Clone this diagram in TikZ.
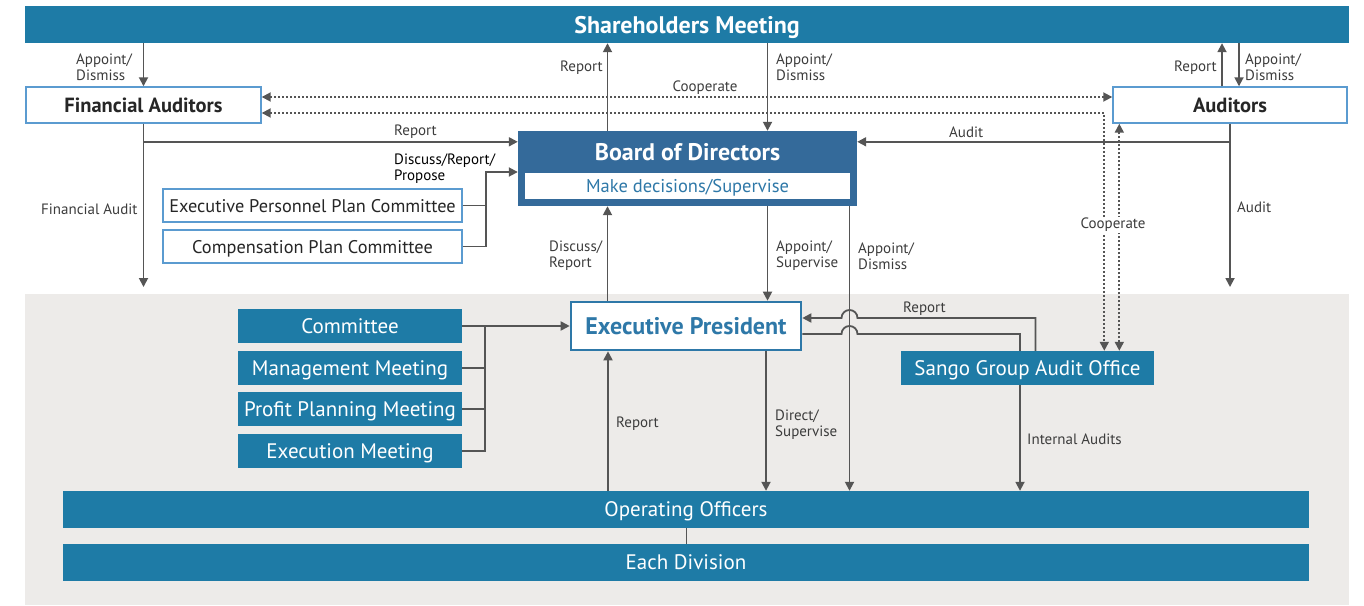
\documentclass[tikz,border=0pt]{standalone}
\usepackage{fontspec}
\setmainfont{PT Sans}
\usepackage{xcolor}
\usetikzlibrary{positioning,calc,arrows.meta}

\definecolor{mainblue}{HTML}{1E7BA6}
\definecolor{bodblue}{HTML}{346A9A}
\definecolor{lineblue}{HTML}{5B9BD0}
\definecolor{epblue}{HTML}{2E78A8}
\definecolor{linegray}{HTML}{555555}
\definecolor{labelgray}{HTML}{3C3C3C}
\definecolor{bggray}{HTML}{EDEBE9}

\tikzset{
    arr/.style={draw=linegray, line width=1.8pt, -{Triangle[length=9pt,width=9pt]}},
    plain/.style={draw=linegray, line width=1.8pt},
    dotline/.style={draw=linegray, line width=1.8pt, dash pattern=on 1.8pt off 2.2pt,
        {Triangle[length=9pt,width=9pt]}-{Triangle[length=9pt,width=9pt]}},
    lbl/.style={font=\fontsize{15}{16}\selectfont, text=labelgray, align=left, inner sep=0pt},
    bluebar/.style={fill=mainblue, text=white, inner sep=0pt, text depth=0pt, font=\fontsize{21}{24}\selectfont},
    whitebox/.style={draw=lineblue, line width=1.4pt, fill=white, inner sep=0pt, text depth=0pt},
}

\begin{document}
\begin{tikzpicture}[x=1pt, y=-1pt]
    \useasboundingbox (0,0) rectangle (1364,605);
    % background of the executive part
    \fill[bggray] (25,294) rectangle (1349,605);

    % top level
    \node[bluebar, minimum width=1324pt, minimum height=37pt,
        font=\fontsize{24}{28}\selectfont\bfseries] (sh) at (687,24.5) {Shareholders Meeting};
    \node[whitebox, minimum width=235pt, minimum height=36pt,
        font=\fontsize{20.5}{24}\selectfont\bfseries, text=black!85] (fa) at (143.5,105) {Financial Auditors};
    \node[whitebox, minimum width=234pt, minimum height=36pt,
        font=\fontsize{20.5}{24}\selectfont\bfseries, text=black!85] (aud) at (1230,105) {Auditors};

    % board
    \node[fill=bodblue, minimum width=339pt, minimum height=75pt, inner sep=0pt] (bod) at (687.5,168.5) {};
    \node[text=white, font=\fontsize{24}{28}\selectfont\bfseries, inner sep=0pt, text depth=0pt] (bodt) at (687.5,152) {Board of Directors};
    \node[fill=white, minimum width=325pt, minimum height=26pt, inner sep=0pt, text depth=0pt, text=epblue,
        font=\fontsize{18.5}{22}\selectfont] (bodsub) at (687.5,186) {Make decisions/Supervise};

    \node[whitebox, minimum width=299pt, minimum height=33pt,
        font=\fontsize{18.3}{22}\selectfont, text=black!85] (eppc) at (312.5,205.5) {Executive Personnel Plan Committee};
    \node[whitebox, minimum width=299pt, minimum height=33pt,
        font=\fontsize{18.3}{22}\selectfont, text=black!85] (cpc) at (312.5,246.5) {Compensation Plan Committee};

    % executive part
    \node[draw=epblue, line width=2.6pt, fill=white, minimum width=230pt, minimum height=48pt, inner sep=0pt,
        text depth=0pt, text=epblue, font=\fontsize{24}{28}\selectfont\bfseries] (ep) at (686,326) {Executive President};
    \node[bluebar, minimum width=224pt, minimum height=34pt] (cm) at (350,326) {Committee};
    \node[bluebar, minimum width=224pt, minimum height=34pt] (mm) at (350,368) {Management Meeting};
    \node[bluebar, minimum width=224pt, minimum height=34pt] (pp) at (350,409) {Profit Planning Meeting};
    \node[bluebar, minimum width=224pt, minimum height=34pt] (em) at (350,451) {Execution Meeting};
    \node[bluebar, minimum width=253pt, minimum height=34pt] (sango) at (1027.5,368) {Sango Group Audit Office};
    \node[bluebar, minimum width=1246pt, minimum height=37pt] (op) at (686,509.5) {Operating Officers};
    \node[bluebar, minimum width=1246pt, minimum height=37pt] (div) at (686,562.5) {Each Division};

    % free ends and levels
    \coordinate (faend) at (143.5,287);
    \coordinate (audend) at (1230,287);
    \path ([yshift=-11pt]bod.north west) coordinate (bodL);
    \path ([yshift=-11pt]bod.north east) coordinate (bodR);
    \path ([yshift=-3.5pt]bod.west) coordinate (bodD);
    \coordinate (jmpA) at (849.5,318);
    \coordinate (jmpB) at (849.5,334);

    % shareholders meeting
    \draw[arr] (sh.south -| fa) -- (fa.north);
    \draw[arr] ([xshift=-80pt]bod.north) -- ([xshift=-80pt]bod.north |- sh.south);
    \draw[arr] ([xshift=80pt]bod.north |- sh.south) -- ([xshift=80pt]bod.north);
    \draw[arr] ([xshift=-8pt]aud.north) -- ([xshift=-8pt]aud.north |- sh.south);
    \draw[arr] ([xshift=9pt]aud.north |- sh.south) -- ([xshift=9pt]aud.north);

    % auditors
    \draw[arr] (fa.south) -- (faend);
    \draw[arr] (fa.south |- bodL) -- (bodL);
    \draw[arr] (aud.south) -- (audend);
    \draw[arr] (aud.south |- bodR) -- (bodR);
    \draw[dotline] ([yshift=8pt]fa.east) -- ([yshift=8pt]fa.east -| aud.west);
    \draw[dotline] ([yshift=-8pt]fa.east) -| ([xshift=-8pt]aud.west |- sango.north);
    \draw[dotline] ([xshift=7pt]aud.south west |- sango.north) -- ([xshift=7pt]aud.south west);

    % committees to board
    \draw[plain] (eppc.east) -- ++(23,0);
    \draw[arr] (cpc.east) -- ++(23,0) |- (bodD);

    % board and president
    \draw[arr] ([xshift=80pt]bod.south) -- ([xshift=80pt]bod.south |- ep.north);
    \draw[arr] ([xshift=-80pt]bod.south |- ep.north) -- ([xshift=-80pt]bod.south);
    \draw[arr] ([xshift=162pt]bod.south) -- ([xshift=162pt]bod.south |- op.north);

    % meetings to president
    \draw[arr] (cm.east) -- (cm.east -| ep.west);
    \draw[plain] (mm.east) -- ++(23,0);
    \draw[plain] (pp.east) -- ++(23,0);
    \draw[plain] (em.east) -- ++(23,0) -- ([xshift=23pt]cm.east);

    % audit office
    \draw[arr] ([xshift=8pt]sango.north) |- ([xshift=8pt]jmpA)
        arc[start angle=0, end angle=180, radius=8pt] -- ([yshift=8pt]ep.east);
    \draw[plain] ([yshift=-8pt]ep.east) -- ([xshift=-8pt]jmpB)
        arc[start angle=180, end angle=0, radius=8pt] -| ([xshift=-7.5pt]sango.north);
    \draw[arr] ([xshift=-7.5pt]sango.south) -- ([xshift=-7.5pt]sango.south |- op.north);

    % president and officers
    \draw[arr] ([xshift=80pt]ep.south) -- ([xshift=80pt]ep.south |- op.north);
    \draw[arr] ([xshift=-78pt]ep.south |- op.north) -- ([xshift=-78pt]ep.south);
    \draw[plain, line width=1pt] (op.south) -- (div.north);

    % labels
    \node[lbl, anchor=west] (l1) at (76,67) {Appoint/\\Dismiss};
    \node[lbl, anchor=west] (l2) at (560,68) {Report};
    \node[lbl, anchor=west] (l3) at (776,67) {Appoint/\\Dismiss};
    \node[lbl, anchor=center] (l4) at (705,88) {Cooperate};
    \node[lbl, anchor=west] (l5) at (1174,68) {Report};
    \node[lbl, anchor=west] (l6) at (1245,67) {Appoint/\\Dismiss};
    \node[lbl, anchor=west] (l7) at (394,132) {Report};
    \node[lbl, anchor=west] (l8) at (949,132) {Audit};
    \node[lbl, anchor=west, text=black] (l9) at (394,169) {Discuss/Report/\\Propose};
    \node[lbl, anchor=west] (l10) at (41,209) {Financial Audit};
    \node[lbl, anchor=west] (l11) at (1237,207) {Audit};
    \node[lbl, anchor=center, fill=white, inner sep=1pt] (l12) at (1113,225) {Cooperate};
    \node[lbl, anchor=west] (l13) at (549,256) {Discuss/\\Report};
    \node[lbl, anchor=west] (l14) at (776,256) {Appoint/\\Supervise};
    \node[lbl, anchor=west] (l15) at (858,256) {Appoint/\\Dismiss};
    \node[lbl, anchor=west] (l16) at (903,309) {Report};
    \node[lbl, anchor=west] (l17) at (616,424) {Report};
    \node[lbl, anchor=west] (l18) at (775,425) {Direct/\\Supervise};
    \node[lbl, anchor=west] (l19) at (1027,439) {Internal Audits};
\end{tikzpicture}
\end{document}
